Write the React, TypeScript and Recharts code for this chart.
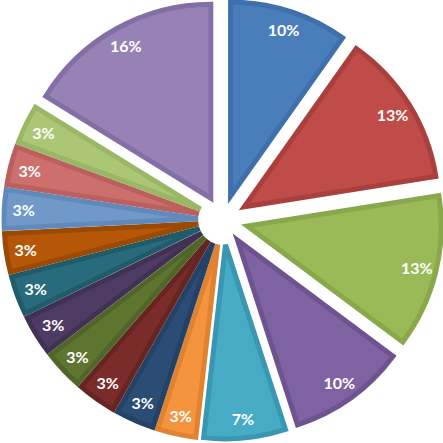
import { PieChart, Pie, Cell, Sector } from "recharts";

// share of each slice (percent); labels are rounded by the chart
const categories = [
  "Cat 1", "Cat 2", "Cat 3", "Cat 4", "Cat 5", "Cat 6", "Cat 7", "Cat 8",
  "Cat 9", "Cat 10", "Cat 11", "Cat 12", "Cat 13", "Cat 14", "Cat 15", "Cat 16",
];
const shares = [9.8, 12.7, 12.7, 9.8, 6.8, 3.2, 3.2, 3.2, 3.2, 3.2, 3.2, 3.2, 3.2, 3.2, 3.2, 16.2];

const FILLS = [
  "#4a7ebb", "#bf4c49", "#9aba58", "#7f62a1", "#48abc6", "#f5943f",
  "#2b4c75", "#792c2a", "#5e7530", "#4e3b63", "#276b7d", "#b55707",
  "#7099c9", "#cc6f6d", "#abc775", "#9782b6",
];
const EDGES = [
  "#3f70ab", "#aa403d", "#88a84b", "#6e5391", "#3a97b1", "#e0822f",
  "#244166", "#672522", "#506528", "#413253", "#205b6a", "#9a4a05",
  "#608abb", "#ba605e", "#99b765", "#846ea6",
];

const data = categories.map((name, i) => ({ name, value: shares[i] }));

const CX = 223;
const CY = 220;
const R = 194;
const EXPLODE = 25;
const RAD = Math.PI / 180;

function ExplodedSlice(props: any) {
  const { cx, cy, midAngle, startAngle, endAngle, outerRadius, index } = props;
  const ox = cx + EXPLODE * Math.cos(-midAngle * RAD);
  const oy = cy + EXPLODE * Math.sin(-midAngle * RAD);
  return (
    <Sector
      cx={ox}
      cy={oy}
      innerRadius={0}
      outerRadius={outerRadius}
      startAngle={startAngle}
      endAngle={endAngle}
      fill={FILLS[index]}
      stroke={EDGES[index]}
      strokeWidth={5}
      strokeLinejoin="miter"
    />
  );
}

function SliceLabel(props: any) {
  const { cx, cy, midAngle, outerRadius, percent } = props;
  const dist = EXPLODE + outerRadius * 0.9;
  const x = cx + dist * Math.cos(-midAngle * RAD);
  const y = cy + dist * Math.sin(-midAngle * RAD);
  return (
    <text
      x={x}
      y={y}
      fill="#ffffff"
      textAnchor="middle"
      dominantBaseline="central"
      fontFamily="Lato, 'Open Sans', sans-serif"
      fontWeight={700}
      fontSize={16}
    >
      {`${Math.round(percent * 100)}%`}
    </text>
  );
}

export default function App() {
  return (
    <div style={{ width: 443, height: 443, background: "#ffffff" }}>
      <style>{"body{margin:0}"}</style>
      <PieChart width={443} height={443} margin={{ top: 0, right: 0, bottom: 0, left: 0 }}>
        <Pie
          data={data}
          dataKey="value"
          nameKey="name"
          cx={CX}
          cy={CY}
          outerRadius={R}
          startAngle={90}
          endAngle={-270}
          stroke="none"
          shape={ExplodedSlice}
          label={SliceLabel}
          labelLine={false}
          isAnimationActive={false}
        >
          {data.map((_, i) => (
            <Cell key={i} fill={FILLS[i]} />
          ))}
        </Pie>
      </PieChart>
    </div>
  );
}
